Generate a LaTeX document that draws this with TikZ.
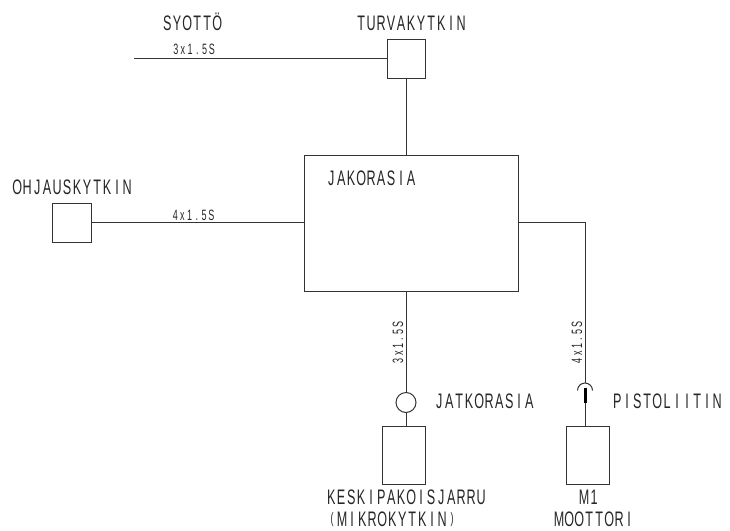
\documentclass[tikz,border=0pt]{standalone}
\usepackage{fontspec}
\setmainfont[FakeStretch=0.6]{Liberation Sans}
\makeatletter
\newcommand\pitched[2]{\@tfor\pitchtok:=#2\do{\makebox[#1]{\pitchtok}}}
\makeatother
\newcommand\lpar{\raisebox{3pt}{\fontsize{15}{15}\selectfont(}}
\newcommand\rpar{\raisebox{3pt}{\fontsize{15}{15}\selectfont)}}
\tikzset{
  px/.style={x=1pt,y=-1pt},
  wire/.style={draw=black!80,line width=1pt},
  symbolbox/.style={draw=black!80,line width=1pt,inner sep=0pt,outer sep=0pt,fill=white},
  lab/.style={anchor=base west,inner sep=0pt,text=black!85,font=\fontsize{21}{21}\selectfont},
  cable/.style={anchor=base west,inner sep=0pt,text=black!85,font=\fontsize{15}{15}\selectfont},
}
\begin{document}
\begin{tikzpicture}[px]
\useasboundingbox (0,0) rectangle (730,530);
\node[symbolbox,minimum width=38pt,minimum height=39pt] (turva) at (406,58.5) {};
\node[symbolbox,minimum width=214pt,minimum height=136pt] (jako) at (411,223.5) {};
\node[symbolbox,minimum width=39pt,minimum height=39pt] (ohj) at (71.5,222.5) {};
\node[symbolbox,minimum width=43pt,minimum height=58pt] (keski) at (403.5,455.5) {};
\node[symbolbox,minimum width=43pt,minimum height=58pt] (moot) at (587.5,455.5) {};
\node[symbolbox,circle,minimum size=20pt] (jatko) at (406,402.5) {};
\coordinate (feed) at (134,58.5);
\coordinate (corner) at (585.5,222.5);
\coordinate (plugtop) at (585.5,383);
\coordinate (plugA) at (585.5,388);
\coordinate (plugB) at (585.5,403);
\coordinate (jakoR) at (518,222.5);
\coordinate (jakoB) at (406.5,291.5);
\coordinate (jakoT) at (406.5,155.5);
\coordinate (jatkoT) at (406.5,392.5);
\coordinate (jatkoB) at (406.5,412.5);
\coordinate (keskiT) at (406.5,426.5);
\coordinate (mootT) at (585.5,426.5);
\coordinate (turvaB) at (406.5,78);
\coordinate (turvaL) at (387,58.5);
\coordinate (ohjR) at (91,222.5);
\coordinate (jakoL) at (304,222.5);
\draw[wire] (feed) -- (turvaL);
\draw[wire] (turvaB) -- (jakoT);
\draw[wire] (ohjR) -- (jakoL);
\draw[wire] (jakoB) -- (jatkoT);
\draw[wire] (jatkoB) -- (keskiT);
\draw[wire] (jakoR) -- (corner) -- (plugtop);
\draw[wire] (plugB) -- (mootT);
\draw[line width=3.6pt,draw=black] (plugA) -- (plugB);
\draw[wire] (577.5,390.5) arc[start angle=180,end angle=360,radius=7.5];
\node[lab] (t1) at (162,30) {\pitched{10pt}{SYOTTÖ}};
\node[lab] (t2) at (356,30) {\pitched{10pt}{TURVAKYTKIN}};
\node[lab] (t3) at (12,194) {\pitched{10pt}{OHJAUSKYTKIN}};
\node[lab] (t4) at (326,185) {\pitched{10pt}{JAKORASIA}};
\node[lab] (t5) at (434,408) {\pitched{10pt}{JATKORASIA}};
\node[lab] (t6) at (612,408) {\pitched{10pt}{PISTOLIITIN}};
\node[lab] (t7) at (326,504) {\pitched{10pt}{KESKIPAKOISJARRU}};
\node[lab] (t8) at (327,526.5) {\pitched{10pt}{\lpar MIKROKYTKIN\rpar}};
\node[lab] (t9) at (579,504) {\pitched{10pt}{M1}};
\node[lab] (t10) at (554,526.5) {\pitched{10pt}{MOOTTORI}};
\node[cable] (c1) at (172,54) {\pitched{7.2pt}{3x1.5S}};
\node[cable] (c2) at (171.5,220) {\pitched{7.2pt}{4x1.5S}};
\node[cable,rotate=90] (c3) at (403,364.5) {\pitched{7.2pt}{3x1.5S}};
\node[cable,rotate=90] (c4) at (582,364.5) {\pitched{7.2pt}{4x1.5S}};
\end{tikzpicture}
\end{document}
